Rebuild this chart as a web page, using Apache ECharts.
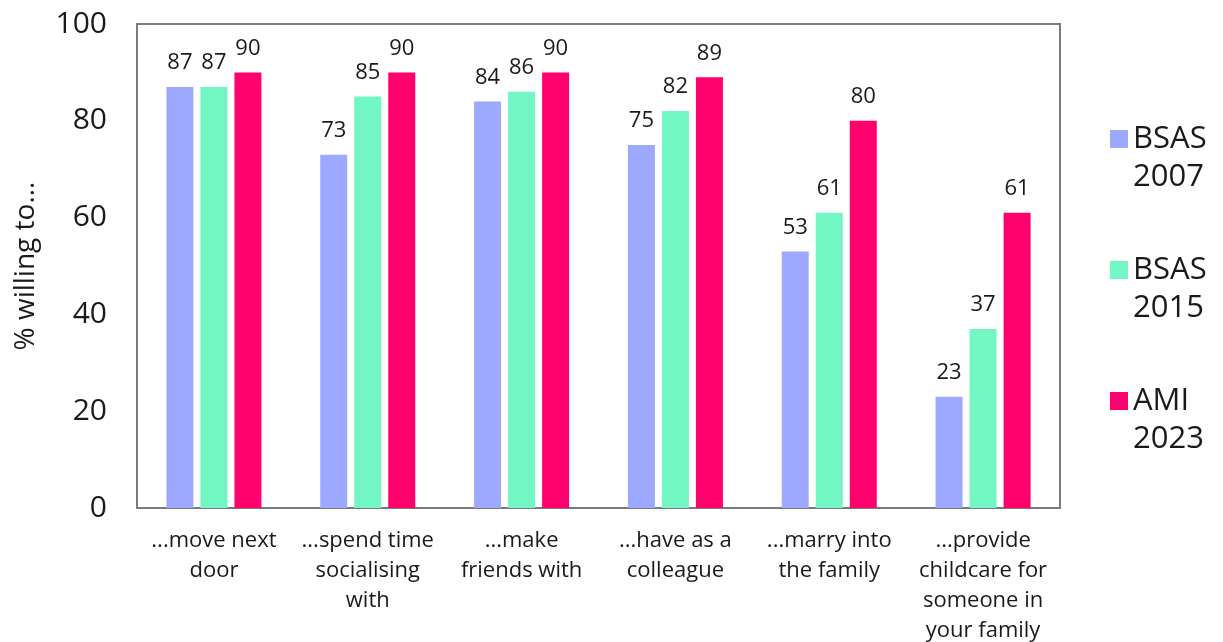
<!DOCTYPE html>
<html>
<head>
<meta charset="utf-8">
<script src="https://cdn.jsdelivr.net/npm/echarts@6/dist/echarts.min.js"></script>
<style>
  html, body { margin: 0; padding: 0; background: #ffffff; }
  #chart { width: 1223px; height: 642px; }
</style>
</head>
<body>
<div id="chart"></div>
<script>
// Willingness to accept someone in different social roles, by survey
const categories = [
  '...move next\ndoor',
  '...spend time\nsocialising\nwith',
  '...make\nfriends with',
  '...have as a\ncolleague',
  '...marry into\nthe family',
  '...provide\nchildcare for\nsomeone in\nyour family'
];
const seriesNames = ['BSAS\n2007', 'BSAS\n2015', 'AMI\n2023'];
const bsas2007 = [87, 73, 84, 75, 53, 23];
const bsas2015 = [87, 85, 86, 82, 61, 37];
const ami2023 = [90, 90, 90, 89, 80, 61];
const yTicks = { min: 0, max: 100, interval: 20 };

const colors = ['#9DA9FF', '#72F6C4', '#FF006C'];
const fontFamily = '"Open Sans", Lato, sans-serif';
const textColor = '#1a1a1a';

// Square swatch sitting at the top of a taller box, so it lines up with
// the first line of each two-line legend name.
const legendSwatch = 'path://M0,0L18,0L18,18L0,18Z M0,56L18,56';

function barSeries(name, values, color) {
  return {
    name: name,
    type: 'bar',
    data: values,
    barWidth: 27,
    barGap: '26%',
    itemStyle: { color: color },
    label: {
      show: true,
      position: 'top',
      distance: 13,
      color: textColor,
      fontSize: 22,
      fontFamily: fontFamily
    }
  };
}

const chart = echarts.init(document.getElementById('chart'), null, { renderer: 'canvas' });
chart.setOption({
  animation: false,
  color: colors,
  grid: {
    left: 137, right: 163, top: 24, bottom: 134,
    outerBoundsMode: 'none',
    show: true,
    borderColor: '#7a7a7a',
    borderWidth: 2,
    backgroundColor: 'transparent'
  },
  legend: {
    orient: 'vertical',
    left: 1105,
    top: 115,
    itemWidth: 18,
    itemHeight: 56,
    itemGap: 55,
    icon: legendSwatch,
    data: seriesNames,
    textStyle: {
      fontSize: 31,
      lineHeight: 38,
      color: textColor,
      fontFamily: fontFamily
    }
  },
  xAxis: {
    type: 'category',
    data: categories,
    axisLine: { show: false },
    axisTick: { show: false },
    axisLabel: {
      color: textColor,
      fontSize: 22,
      lineHeight: 30,
      margin: 18,
      interval: 0,
      fontFamily: fontFamily
    }
  },
  yAxis: {
    type: 'value',
    min: yTicks.min,
    max: yTicks.max,
    interval: yTicks.interval,
    name: '% willing to...',
    nameLocation: 'middle',
    nameGap: 97,
    nameTextStyle: { fontSize: 28, color: textColor, fontFamily: fontFamily },
    axisLine: { show: false },
    axisTick: { show: false },
    splitLine: { show: false },
    axisLabel: { color: textColor, fontSize: 30, margin: 30, fontFamily: fontFamily }
  },
  series: [
    barSeries(seriesNames[0], bsas2007, colors[0]),
    barSeries(seriesNames[1], bsas2015, colors[1]),
    barSeries(seriesNames[2], ami2023, colors[2])
  ]
});
</script>
</body>
</html>
